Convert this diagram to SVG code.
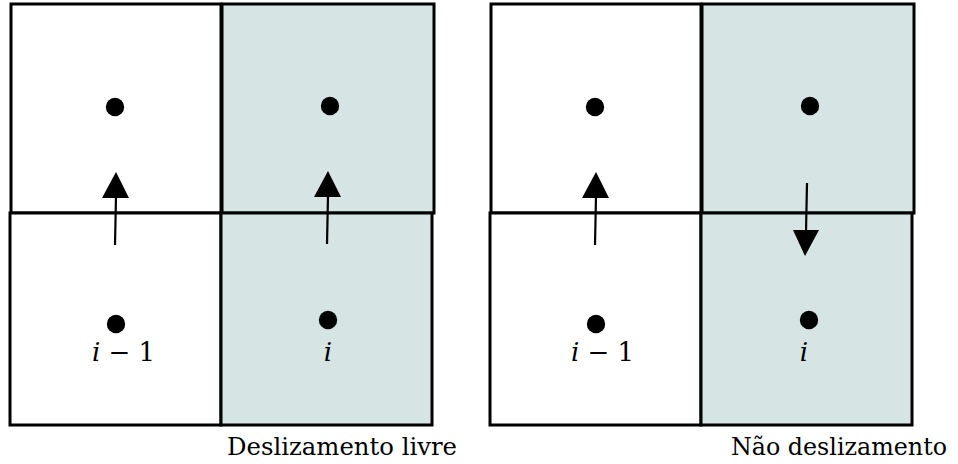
<svg xmlns="http://www.w3.org/2000/svg" width="958" height="464" viewBox="0 0 958 464">
<style>
.cell{stroke:#000;stroke-width:3;fill:#fff}
.sh{fill:#d6e4e4}
.dot{fill:#000}
.arr{stroke:#000;stroke-width:2.2;fill:none}
.t{font-family:'DejaVu Serif','Liberation Serif',serif;fill:#000}
.cap{font-size:24px}
</style>
<rect width="958" height="464" fill="#fff"/>
<g id="panel-livre">
  <g id="c1"><rect class="cell" x="11" y="4" width="210" height="209"/><circle class="dot" cx="115" cy="107" r="9.2"/></g>
  <g id="c2"><rect class="cell sh" x="222" y="4" width="212" height="209"/><circle class="dot" cx="330" cy="106" r="9.2"/></g>
  <g id="c3"><rect class="cell" x="10" y="213" width="211" height="212"/><circle class="dot" cx="116" cy="324" r="9.2"/>
    <text class="t" font-size="26" x="92" y="361" textLength="63" lengthAdjust="spacing"><tspan font-style="italic">i</tspan> − 1</text></g>
  <g id="c4"><rect class="cell sh" x="221" y="213" width="211" height="212"/><circle class="dot" cx="328" cy="320" r="9.2"/>
    <text class="t" font-size="26" font-style="italic" x="328" y="361" text-anchor="middle">i</text></g>
  <text class="t cap" x="227" y="455" textLength="230" lengthAdjust="spacingAndGlyphs">Deslizamento livre</text>
</g>
<g id="panel-nao">
  <g id="d1"><rect class="cell" x="491" y="4" width="210" height="209"/><circle class="dot" cx="595" cy="107" r="9.2"/></g>
  <g id="d2"><rect class="cell sh" x="702" y="4" width="212" height="209"/><circle class="dot" cx="810" cy="106" r="9.2"/></g>
  <g id="d3"><rect class="cell" x="490" y="213" width="211" height="212"/><circle class="dot" cx="596" cy="324" r="9.2"/>
    <text class="t" font-size="26" x="571" y="361" textLength="63" lengthAdjust="spacing"><tspan font-style="italic">i</tspan> − 1</text></g>
  <g id="d4"><rect class="cell sh" x="701" y="213" width="211" height="212"/><circle class="dot" cx="809" cy="320" r="9.2"/>
    <text class="t" font-size="26" font-style="italic" x="804" y="361" text-anchor="middle">i</text></g>
  <text class="t cap" x="731" y="455" textLength="216" lengthAdjust="spacingAndGlyphs">Não deslizamento</text>
</g>
<g id="connectors">
  <line class="arr" x1="115" y1="245" x2="116" y2="196"/>
  <polygon points="116,172 102,198 129,198"/>
  <line class="arr" x1="327" y1="244" x2="328" y2="196"/>
  <polygon points="328,171 314,197 341,197"/>
  <line class="arr" x1="595" y1="245" x2="596" y2="196"/>
  <polygon points="596,172 582,198 609,198"/>
  <line class="arr" x1="807" y1="183" x2="806" y2="232"/>
  <polygon points="805,256 793,230 819,230"/>
</g>
</svg>
